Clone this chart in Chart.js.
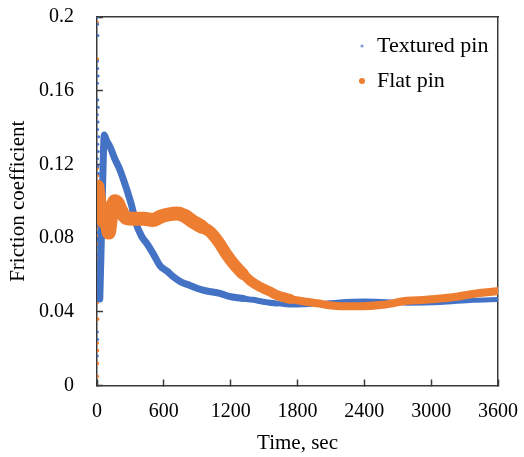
<!DOCTYPE html>
<html><head><meta charset="utf-8">
<script src="https://cdn.jsdelivr.net/npm/chart.js@4.4.1/dist/chart.umd.min.js"></script>
<style>html,body{margin:0;padding:0;background:#fff;}canvas{display:block;}</style>
</head><body>
<canvas id="c" width="524" height="457"></canvas>
<script>
// ---- data ----
const seriesNames = ['Textured pin', 'Flat pin'];
const xTicks = [0, 600, 1200, 1800, 2400, 3000, 3600];
const yTicks = [0, 0.04, 0.08, 0.12, 0.16, 0.2];
const yTickLabels = ['0', '0.04', '0.08', '0.12', '0.16', '0.2'];
const xTickLabels = ['0', '600', '1200', '1800', '2400', '3000', '3600'];

const texturedTime = [25, 35, 45, 55, 65, 85, 117, 160, 206, 269, 314, 345, 400, 446, 500, 566, 630, 685, 760, 835, 910, 985, 1104, 1167, 1311, 1400, 1490, 1616, 1733, 1850, 1975, 2155, 2400, 2600, 2783, 3079, 3375, 3600];
const texturedValue = [0.047, 0.07, 0.095, 0.12, 0.136, 0.133, 0.1295, 0.123, 0.117, 0.106, 0.097, 0.089, 0.081, 0.0772, 0.072, 0.065, 0.062, 0.059, 0.056, 0.0543, 0.0525, 0.0513, 0.05, 0.0487, 0.0472, 0.0465, 0.0455, 0.0445, 0.0437, 0.0438, 0.0443, 0.0452, 0.0458, 0.0455, 0.0447, 0.045, 0.0463, 0.0467];

const flatTime = [3, 20, 40, 60, 80, 105, 130, 160, 185, 215, 260, 330, 420, 500, 566, 640, 718, 790, 862, 940, 1014, 1090, 1167, 1240, 1311, 1373, 1463, 1553, 1616, 1733, 1850, 1975, 2155, 2361, 2568, 2783, 2950, 3079, 3230, 3375, 3600];
const flatValue = [0.108, 0.1, 0.094, 0.089, 0.093, 0.083, 0.094, 0.1, 0.099, 0.095, 0.091, 0.0905, 0.0905, 0.0898, 0.0915, 0.0928, 0.0934, 0.092, 0.0889, 0.0862, 0.0835, 0.078, 0.0708, 0.065, 0.0605, 0.057, 0.0535, 0.051, 0.049, 0.047, 0.0457, 0.0446, 0.0432, 0.043, 0.0438, 0.046, 0.0465, 0.0472, 0.0482, 0.0497, 0.0513];

// start-up transient points (first seconds)
const texturedStartTime = [3, 5, 8, 2, 6, 10, 4, 7, 12, 3, 9, 5, 14, 6, 11, 4, 8, 13, 2, 7, 10, 5, 15, 9, 3, 12, 6, 16, 4, 8, 2, 11, 6, 14, 3, 5, 2];
const texturedStartValue = [0.2, 0.196, 0.19, 0.176, 0.172, 0.168, 0.164, 0.155, 0.151, 0.147, 0.143, 0.139, 0.135, 0.131, 0.127, 0.123, 0.119, 0.115, 0.111, 0.107, 0.103, 0.099, 0.095, 0.091, 0.087, 0.083, 0.079, 0.075, 0.071, 0.067, 0.063, 0.059, 0.052, 0.046, 0.029, 0.025, 0.016];
const flatStartTime = [2, 4, 3, 6, 8, 5, 10, 7, 12, 4, 9, 6, 3, 5, 2, 4, 3, 6, 2, 4, 3, 2];
const flatStartValue = [0.197, 0.177, 0.118, 0.114, 0.11, 0.106, 0.102, 0.098, 0.094, 0.09, 0.086, 0.082, 0.077, 0.07, 0.061, 0.054, 0.045, 0.036, 0.023, 0.019, 0.012, 0.005];

// ---- styling ----
const FONT = "'Liberation Serif', 'Times New Roman', serif";
const BLUE = '#4472C4';
const ORANGE = '#ED7D31';
const AXIS = '#3a3a3a';

const pts = (xs, ys) => xs.map((x, i) => ({ x, y: ys[i] }));

function dot(color, r) {
  const c = document.createElement('canvas');
  const s = Math.ceil(r * 2) + 2;
  c.width = s; c.height = s;
  const g = c.getContext('2d');
  g.fillStyle = color;
  g.beginPath(); g.arc(s / 2, s / 2, r, 0, Math.PI * 2); g.fill();
  return c;
}
const legendDots = [dot(BLUE, 1.3), dot(ORANGE, 3)];

const legendPlace = {
  id: 'legendPlace',
  afterLayout(chart) {
    const lg = chart.legend;
    if (!lg) return;
    const w = lg.width;
    lg.left = 345; lg.right = 345 + w;
    lg.top = 22; lg.bottom = 22 + 300;
  }
};

const zeroPad = s => { s.paddingLeft = 0; s.paddingRight = 0; s.paddingTop = 0; s.paddingBottom = 0; };

const tickFont = { family: FONT, size: 20 };
const titleFont = { family: FONT, size: 21 };

new Chart(document.getElementById('c'), {
  type: 'scatter',
  data: {
    datasets: [
      {
        label: seriesNames[0], data: pts(texturedTime, texturedValue),
        xAxisID: 'x', yAxisID: 'y', order: 1,
        showLine: true, pointRadius: 0, borderColor: BLUE, backgroundColor: BLUE,
        borderWidth: 6, borderCapStyle: 'round', borderJoinStyle: 'round',
        cubicInterpolationMode: 'monotone',
        segment: { borderWidth: ctx => { const t = ctx.p0.parsed.x; return t < 1200 ? 7 : (t < 1600 ? 6 : 5); } }
      },
      {
        label: seriesNames[1], data: pts(flatTime, flatValue),
        xAxisID: 'x', yAxisID: 'y', order: 0,
        showLine: true, pointRadius: 0, borderColor: ORANGE, backgroundColor: ORANGE,
        borderWidth: 10, borderCapStyle: 'round', borderJoinStyle: 'round',
        cubicInterpolationMode: 'monotone',
        segment: { borderWidth: ctx => { const t = ctx.p0.parsed.x; return t < 900 ? 14 : (t < 1300 ? 12 : (t < 1700 ? 10 : 8)); } }
      },
      {
        label: seriesNames[0] + ' start', data: pts(texturedStartTime, texturedStartValue),
        xAxisID: 'x', yAxisID: 'y', order: 2,
        showLine: false, pointRadius: 1.5, borderWidth: 0, backgroundColor: BLUE
      },
      {
        label: seriesNames[1] + ' start', data: pts(flatStartTime, flatStartValue),
        xAxisID: 'x', yAxisID: 'y', order: 2,
        showLine: false, pointRadius: 1.8, borderWidth: 0, backgroundColor: ORANGE
      }
    ]
  },
  plugins: [legendPlace],
  options: {
    responsive: false,
    animation: false,
    events: [],
    layout: { padding: { left: 0, right: 26, top: 17, bottom: 0 } },
    plugins: {
      tooltip: { enabled: false },
      legend: {
        position: 'chartArea',
        align: 'start',
        labels: {
          usePointStyle: true,
          boxWidth: 8,
          padding: 13,
          color: '#000',
          font: { family: FONT, size: 22 },
          generateLabels(chart) {
            const items = Chart.defaults.plugins.legend.labels.generateLabels(chart);
            return items.filter(it => it.datasetIndex < 2)
              .sort((a, b) => a.datasetIndex - b.datasetIndex)
              .map(it => Object.assign({}, it, { pointStyle: legendDots[it.datasetIndex], lineWidth: 0 }));
          }
        }
      }
    },
    scales: {
      x: {
        type: 'linear', position: 'bottom', min: 0, max: 3600,
        afterBuildTicks: s => { s.ticks = xTicks.map(v => ({ value: v })); },
        ticks: {
          font: tickFont, color: '#000', padding: 20, maxRotation: 0, autoSkip: false,
          callback: (v) => { const i = xTicks.indexOf(v); return i >= 0 ? xTickLabels[i] : ''; }
        },
        grid: { drawOnChartArea: false, tickLength: -6, color: AXIS, tickWidth: 1.5 },
        border: { color: AXIS, width: 1.5 },
        title: { display: true, text: 'Time, sec', font: titleFont, color: '#000', padding: { top: 0, bottom: 1 } },
        afterFit: s => { s.height = 71.5; zeroPad(s); }
      },
      y: {
        type: 'linear', position: 'left', min: 0, max: 0.2,
        afterBuildTicks: s => { s.ticks = yTicks.map(v => ({ value: v })); },
        ticks: {
          font: tickFont, color: '#000', padding: 29, autoSkip: false,
          callback: (v) => { const i = yTicks.findIndex(t => Math.abs(t - v) < 1e-9); return i >= 0 ? yTickLabels[i] : ''; }
        },
        grid: { drawOnChartArea: false, tickLength: -6, color: AXIS, tickWidth: 1.5 },
        border: { color: AXIS, width: 1.5 },
        title: { display: true, text: 'Friction coefficient', font: titleFont, color: '#000', padding: { top: 6, bottom: 0 } },
        afterFit: s => { s.width = 97; zeroPad(s); }
      },
      x2: {
        type: 'linear', position: 'top', min: 0, max: 3600,
        ticks: { display: false }, grid: { display: false },
        border: { color: AXIS, width: 1.5 },
        afterFit: s => { s.height = 0; zeroPad(s); }
      },
      y2: {
        type: 'linear', position: 'right', min: 0, max: 0.2,
        ticks: { display: false }, grid: { display: false },
        border: { color: AXIS, width: 1.5 },
        afterFit: s => { s.width = 0; zeroPad(s); }
      }
    }
  }
});
</script>
</body></html>
